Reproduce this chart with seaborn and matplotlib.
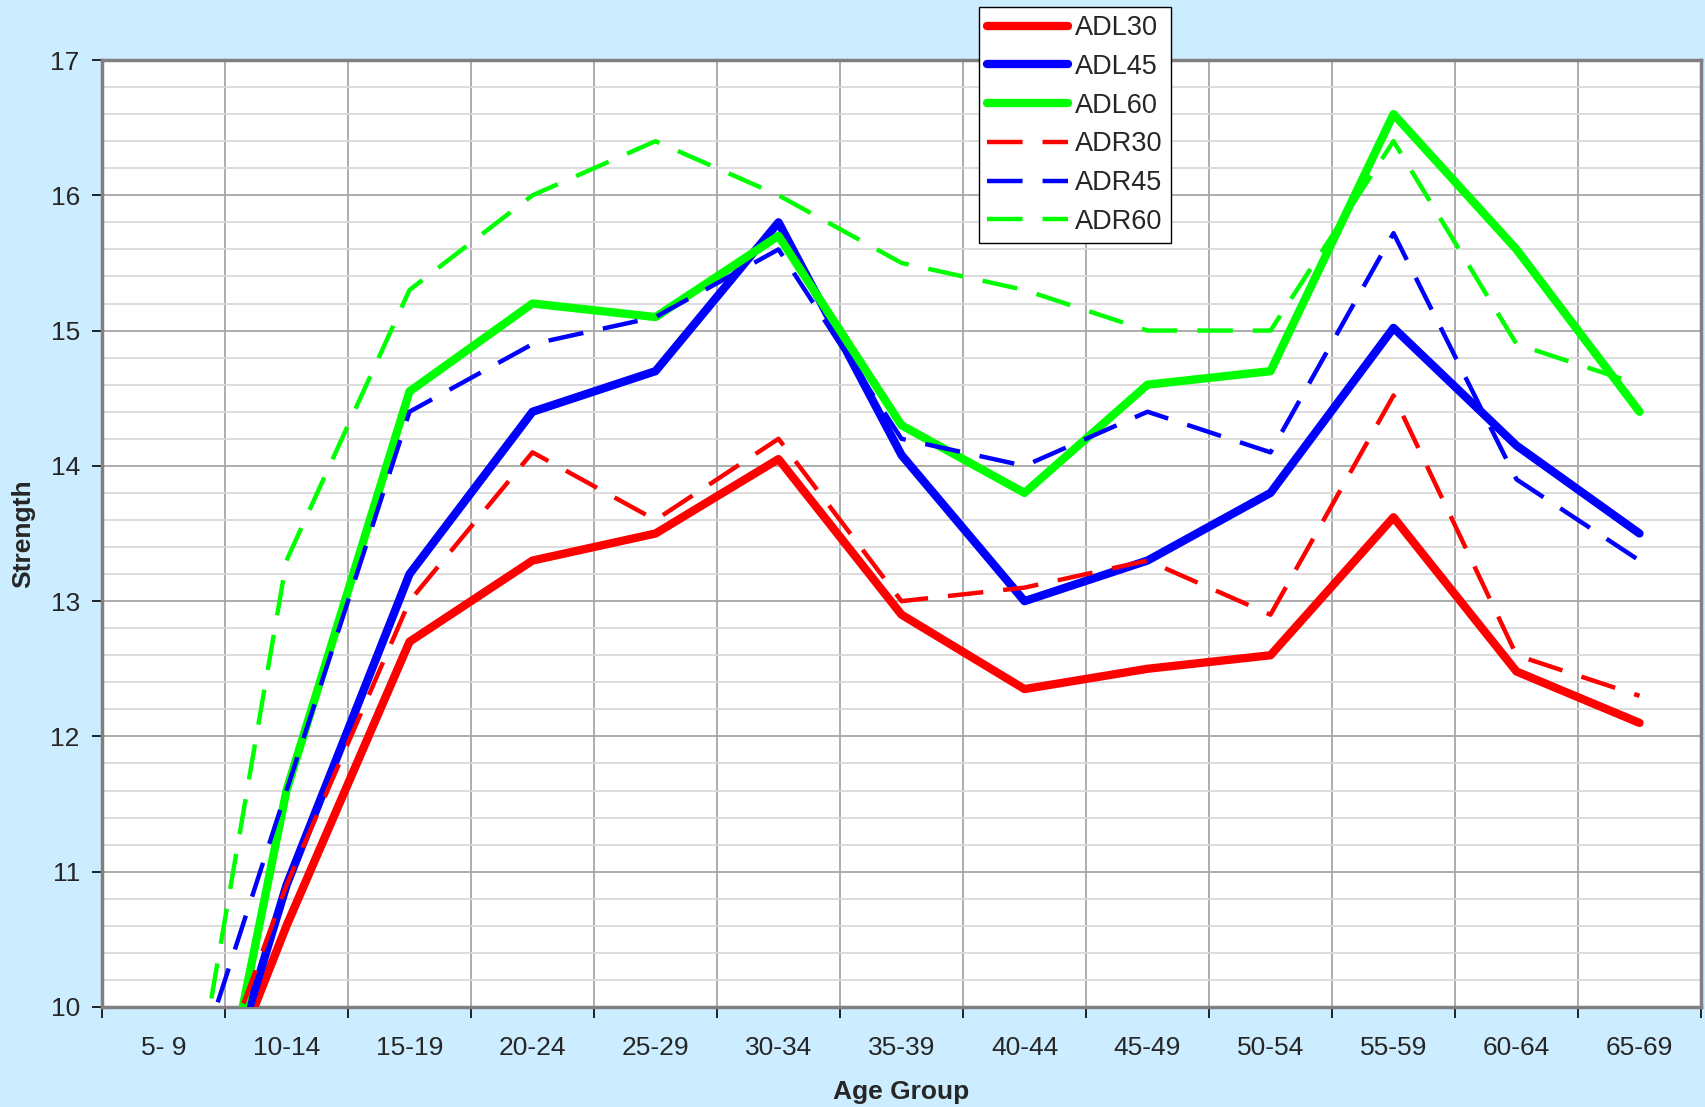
import pandas as pd
import seaborn as sns
import matplotlib.pyplot as plt
from matplotlib.lines import Line2D
from matplotlib.ticker import MultipleLocator, FixedLocator

# Values
age_groups = ['5- 9', '10-14', '15-19', '20-24', '25-29', '30-34', '35-39',
              '40-44', '45-49', '50-54', '55-59', '60-64', '65-69']
adl30 = [8.3, 10.6, 12.7, 13.3, 13.5, 14.05, 12.9, 12.35, 12.5, 12.6, 13.62, 12.48, 12.1]
adl45 = [7.9, 10.9, 13.2, 14.4, 14.7, 15.8, 14.08, 13.0, 13.3, 13.8, 15.02, 14.15, 13.5]
adl60 = [7.1, 11.6, 14.55, 15.2, 15.1, 15.7, 14.3, 13.8, 14.6, 14.7, 16.6, 15.6, 14.4]
adr30 = [8.4, 10.9, 13.0, 14.1, 13.6, 14.2, 13.0, 13.1, 13.3, 12.9, 14.52, 12.6, 12.3]
adr45 = [8.8, 11.6, 14.4, 14.9, 15.1, 15.6, 14.2, 14.0, 14.4, 14.1, 15.72, 13.9, 13.3]
adr60 = [8.0, 13.3, 15.3, 16.0, 16.4, 16.0, 15.5, 15.3, 15.0, 15.0, 16.4, 14.9, 14.6]

series_names = ['ADL30', 'ADL45', 'ADL60', 'ADR30', 'ADR45', 'ADR60']
series_vals = [adl30, adl45, adl60, adr30, adr45, adr60]
colors = {'ADL30': '#FF0000', 'ADL45': '#0000FF', 'ADL60': '#00FF00',
          'ADR30': '#FF0000', 'ADR45': '#0000FF', 'ADR60': '#00FF00'}
dash_map = {'ADL30': '', 'ADL45': '', 'ADL60': '',
            'ADR30': (8, 4.5), 'ADR45': (8, 4.5), 'ADR60': (8, 4.5)}
width_map = {'ADL30': 6.0, 'ADL45': 6.0, 'ADL60': 6.0,
             'ADR30': 3.2, 'ADR45': 3.2, 'ADR60': 3.2}

# long form table
rows = []
for name, vals in zip(series_names, series_vals):
    for i, v in enumerate(vals):
        rows.append({'pos': i, 'Strength': v, 'Series': name})
df = pd.DataFrame(rows)

sns.set_style('white')
plt.rcParams['font.family'] = ['Liberation Sans', 'DejaVu Sans']

bg = '#CCECFF'
fig = plt.figure(figsize=(17.05, 11.07), dpi=100, facecolor=bg)
ax = fig.add_axes([102 / 1705, 100 / 1107, 1599 / 1705, 947 / 1107])
ax.set_facecolor('white')

sns.lineplot(data=df, x='pos', y='Strength', hue='Series', style='Series',
             size='Series', palette=colors, dashes=dash_map, sizes=width_map,
             hue_order=series_names, style_order=series_names, size_order=series_names,
             legend=False, ax=ax, zorder=3)

ax.set_xlim(-0.5, len(age_groups) - 0.5)
ax.set_ylim(10, 17)

# x: ticks on group boundaries, labels at the centres
ax.xaxis.set_major_locator(FixedLocator([i - 0.5 for i in range(len(age_groups) + 1)]))
ax.xaxis.set_minor_locator(FixedLocator(list(range(len(age_groups)))))
ax.set_xticklabels([], minor=False)
ax.set_xticklabels(age_groups, minor=True)
ax.tick_params(axis='x', which='major', direction='out', length=8, width=1.2,
               color='black', bottom=True)
ax.tick_params(axis='x', which='minor', length=0, pad=21, labelsize=19)

ax.yaxis.set_major_locator(MultipleLocator(1))
ax.yaxis.set_minor_locator(MultipleLocator(0.2))
ax.tick_params(axis='y', which='major', direction='out', length=7, width=1.2,
               color='black', left=True, pad=9, labelsize=19)
ax.tick_params(axis='y', which='minor', length=0)

ax.grid(which='major', axis='both', color='#A6A6A6', linewidth=1.3)
ax.grid(which='minor', axis='y', color='#D9D9D9', linewidth=1.3)
ax.set_axisbelow(True)

for sp in ax.spines.values():
    sp.set_color('#808080')
    sp.set_linewidth(2.5)
    sp.set_visible(True)

ax.set_xlabel('Age Group', fontsize=19, fontweight='bold', labelpad=14)
ax.set_ylabel('Strength', fontsize=19, fontweight='bold', labelpad=11)

handles = []
for name in series_names:
    ls = '-' if dash_map[name] == '' else (0, dash_map[name])
    handles.append(Line2D([], [], color=colors[name], linewidth=width_map[name], linestyle=ls))
leg = fig.legend(handles, series_names, loc='upper left',
                 bbox_to_anchor=(979 / 1705, 1 - 7 / 1107), fontsize=19.5,
                 frameon=True, fancybox=False, shadow=False, framealpha=1,
                 edgecolor='black', facecolor='white', borderaxespad=0,
                 handlelength=3.0, handletextpad=0.25, labelspacing=0.47,
                 borderpad=0.3)
leg.get_frame().set_linewidth(1.0)

fig.savefig('out.png', dpi=100, facecolor=bg)
